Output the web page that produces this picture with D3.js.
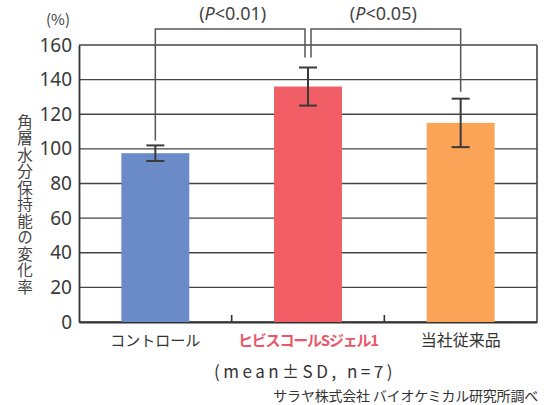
<!DOCTYPE html>
<html><head><meta charset="utf-8">
<script src="https://cdn.jsdelivr.net/npm/d3@7"></script>
<style>
body{margin:0;background:#fff;}
svg{display:block;font-family:"Noto Sans CJK JP","Noto Sans",sans-serif;}
</style></head>
<body>
<svg id="c" width="546" height="405"></svg>
<script>
const categories = ["コントロール", "ヒビスコールSジェル1", "当社従来品"];
const means = [97.5, 136, 115];
const sds = [4.5, 11, 14];
const barColors = ["#6a8bc8", "#f25e66", "#fba457"];
const labelColors = ["#333333", "#e8576a", "#333333"];
const yTicks = [0, 20, 40, 60, 80, 100, 120, 140, 160];
const comparisons = [{a: 0, b: 1, label: "(P<0.01)"}, {a: 1, b: 2, label: "(P<0.05)"}];

const svg = d3.select("#c");
const L = 79, R = 537, T = 45, B = 322;
const x = d3.scaleBand().domain(categories).range([L, R]).paddingInner(0.555).paddingOuter(0.2775);
const y = d3.scaleLinear().domain([0, 160]).range([B, T]);

// gridlines
svg.append("g").selectAll("line").data(yTicks).join("line")
  .attr("x1", L).attr("x2", R).attr("y1", d => y(d)).attr("y2", d => y(d))
  .attr("stroke", "#444").attr("stroke-width", 1.4);
// right border
svg.append("line").attr("x1", R).attr("x2", R).attr("y1", T).attr("y2", B)
  .attr("stroke", "#444").attr("stroke-width", 1.6);

// y axis
const yAxis = d3.axisLeft(y).tickValues(yTicks).tickSize(0).tickPadding(7);
const ga = svg.append("g").attr("transform", `translate(${L},0)`).call(yAxis);
ga.select(".domain").attr("stroke", "#333").attr("stroke-width", 1.8);
ga.selectAll("text").attr("font-size", 19).attr("fill", "#3a3a3a")
  .attr("font-family", "'Noto Sans','Open Sans',sans-serif");

// bottom axis
const xAxis = d3.axisBottom(x).tickSize(0).tickFormat("");
const gx = svg.append("g").attr("transform", `translate(0,${B})`).call(xAxis);
gx.select(".domain").attr("stroke", "#333").attr("stroke-width", 1.8);
// inner category-separator ticks
const seps = categories.slice(1).map((c, i) => (x(categories[i]) + x.bandwidth() + x(c)) / 2);
svg.append("g").selectAll("line").data(seps).join("line")
  .attr("x1", d => d).attr("x2", d => d).attr("y1", B).attr("y2", B - 7)
  .attr("stroke", "#333").attr("stroke-width", 1.6);

// bars
svg.append("g").selectAll("rect").data(categories).join("rect")
  .attr("x", d => x(d)).attr("width", x.bandwidth())
  .attr("y", (d, i) => y(means[i])).attr("height", (d, i) => y(0) - y(means[i]))
  .attr("fill", (d, i) => barColors[i]);

// error bars
const cx = d => x(d) + x.bandwidth() / 2;
const eg = svg.append("g").attr("stroke", "#3a3a3a").attr("stroke-width", 2);
categories.forEach((c, i) => {
  const top = y(means[i] + sds[i]), bot = y(means[i] - sds[i]);
  eg.append("line").attr("x1", cx(c)).attr("x2", cx(c)).attr("y1", top).attr("y2", bot);
  eg.append("line").attr("x1", cx(c) - 9).attr("x2", cx(c) + 9).attr("y1", top).attr("y2", top);
  eg.append("line").attr("x1", cx(c) - 9).attr("x2", cx(c) + 9).attr("y1", bot).attr("y2", bot);
});

// significance brackets
const bracketY = 29;
const bg = svg.append("g").attr("fill", "none").attr("stroke", "#555").attr("stroke-width", 1.5);
comparisons.forEach((cmp, k) => {
  const ca = categories[cmp.a], cb = categories[cmp.b];
  const xa = cx(ca) + (k === 1 ? 3 : 0);
  const xb = cx(cb) - (k === 0 ? 3 : 0);
  const ya = y(means[cmp.a] + sds[cmp.a]) - (k === 1 ? 10 : 5);
  const yb = y(means[cmp.b] + sds[cmp.b]) - (k === 0 ? 10 : 7);
  bg.append("path").attr("d", `M${xa},${ya}V${bracketY}H${xb}V${yb}`);
  const t = svg.append("text").attr("x", (cx(ca) + cx(cb)) / 2 + (k === 0 ? 1 : -1)).attr("y", 20)
    .attr("text-anchor", "middle").attr("font-size", 18).attr("fill", "#444")
    .attr("font-family", "'Noto Sans','Open Sans',sans-serif");
  t.append("tspan").text("(");
  t.append("tspan").attr("font-style", "italic").text("P");
  t.append("tspan").text("<" + cmp.label.slice(3));
});

// category labels
svg.append("g").selectAll("text").data(categories).join("text")
  .attr("x", d => cx(d)).attr("y", 346).attr("text-anchor", "middle")
  .attr("font-size", (d, i) => i === 2 ? 16 : 15).attr("fill", (d, i) => labelColors[i])
  .attr("font-weight", (d, i) => i === 1 ? "bold" : "normal")
  .attr("letter-spacing", (d, i) => i === 1 ? -1.2 : 0)
  .text(d => d);

// (%)
svg.append("text").attr("x", 58).attr("y", 25).attr("text-anchor", "middle")
  .attr("font-size", 15).attr("fill", "#444").text("(%)");

// y title vertical
svg.append("text").attr("x", 25).attr("y", 114)
  .attr("style", "writing-mode: vertical-rl; text-orientation: upright;")
  .attr("font-size", 15.5).attr("letter-spacing", 1).attr("fill", "#444")
  .text("角層水分保持能の変化率");

// footnotes
svg.append("text").attr("x", 305).attr("y", 378).attr("text-anchor", "middle")
  .attr("font-size", 17).attr("fill", "#333").attr("letter-spacing", 3.5)
  .text("(mean±SD, n=7)");
svg.append("text").attr("x", 538).attr("y", 401).attr("text-anchor", "end")
  .attr("font-size", 14).attr("fill", "#333").attr("letter-spacing", -0.2)
  .text("サラヤ株式会社 バイオケミカル研究所調べ");
</script>
</body></html>
